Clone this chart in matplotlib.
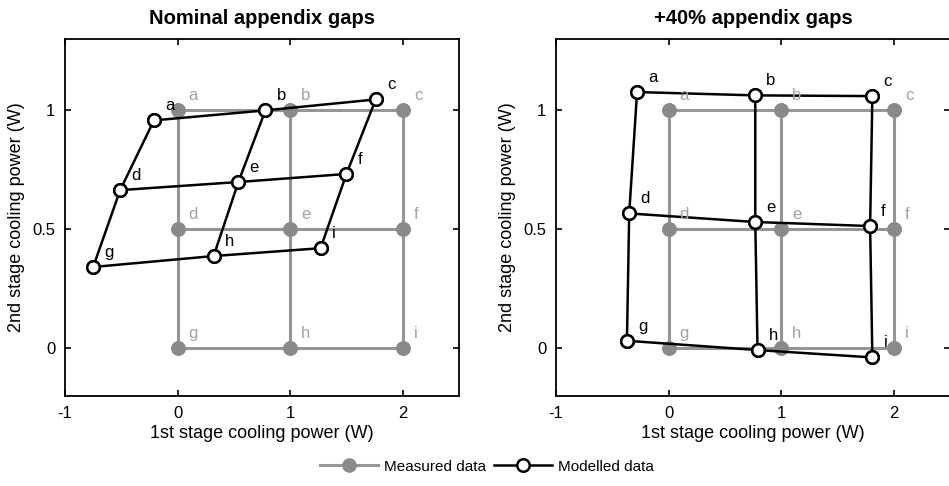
import matplotlib
matplotlib.use("Agg")
import matplotlib.pyplot as plt
from matplotlib.lines import Line2D

plt.rcParams['font.family'] = ['Liberation Sans', 'DejaVu Sans']
plt.rcParams['axes.unicode_minus'] = False

point_names = ['a', 'b', 'c', 'd', 'e', 'f', 'g', 'h', 'i']

# measured grid (same in both panels)
meas_x = [0, 1, 2, 0, 1, 2, 0, 1, 2]
meas_y = [1, 1, 1, 0.5, 0.5, 0.5, 0, 0, 0]

# modelled, nominal appendix gaps
nom_x = [-0.21, 0.78, 1.76, -0.51, 0.54, 1.50, -0.75, 0.32, 1.27]
nom_y = [0.958, 1.00, 1.046, 0.665, 0.699, 0.733, 0.342, 0.388, 0.421]

# modelled, +40% appendix gaps
gap40_x = [-0.28, 0.77, 1.81, -0.35, 0.77, 1.79, -0.37, 0.79, 1.81]
gap40_y = [1.077, 1.063, 1.060, 0.567, 0.531, 0.514, 0.032, -0.007, -0.038]

titles = ['Nominal appendix gaps', '+40% appendix gaps']

grey_line = '#959595'
grey_dot = '#8a8a8a'
grey_text = '#a3a3a3'

rows = [[0, 1, 2], [3, 4, 5], [6, 7, 8]]
cols = [[0, 3, 6], [1, 4, 7], [2, 5, 8]]


def draw_grid(ax, xs, ys, style):
    for idx in rows + cols:
        ax.plot([xs[k] for k in idx], [ys[k] for k in idx], **style)


fig = plt.figure(figsize=(9.49, 4.86), dpi=100)
axes = [fig.add_axes([0.0685, 0.1852, 0.4152, 0.7346]),
        fig.add_axes([0.5859, 0.1852, 0.4152, 0.7346])]

meas_style = dict(color=grey_line, lw=2.2, marker='o', ms=9.5,
                  mfc=grey_dot, mec=grey_dot, zorder=2)
mod_style = dict(color='black', lw=1.8, marker='o', ms=9,
                 mfc='white', mec='black', mew=1.8, zorder=3)

for ax, mx, my, title in zip(axes, [nom_x, gap40_x], [nom_y, gap40_y], titles):
    draw_grid(ax, meas_x, meas_y, meas_style)
    draw_grid(ax, mx, my, mod_style)
    for name, x, y in zip(point_names, meas_x, meas_y):
        ax.annotate(name, (x, y), xytext=(8, 5), textcoords='offset points',
                    color=grey_text, fontsize=12, ha='left', va='bottom')
    for name, x, y in zip(point_names, mx, my):
        ax.annotate(name, (x, y), xytext=(8, 5), textcoords='offset points',
                    color='black', fontsize=12, ha='left', va='bottom', zorder=4)

    ax.set_xlim(-1, 2.5)
    ax.set_ylim(-0.2, 1.3)
    ax.set_xticks([-1, 0, 1, 2])
    ax.set_xticklabels(['-1', '0', '1', '2'])
    ax.set_yticks([0, 0.5, 1])
    ax.set_yticklabels(['0', '0.5', '1'])
    ax.tick_params(direction='in', top=True, right=True, length=4,
                   width=1.2, labelsize=12, pad=7)
    for sp in ax.spines.values():
        sp.set_linewidth(1.3)
    ax.set_xlabel('1st stage cooling power (W)', fontsize=13, labelpad=3)
    ax.set_ylabel('2nd stage cooling power (W)', fontsize=13, labelpad=5)
    ax.set_title(title, fontsize=14.5, fontweight='bold', pad=11)

handles = [Line2D([], [], **{k: v for k, v in meas_style.items() if k != 'zorder'}),
           Line2D([], [], **{k: v for k, v in mod_style.items() if k != 'zorder'})]
fig.legend(handles, ['Measured data', 'Modelled data'], loc='center',
           bbox_to_anchor=(0.513, 0.04), ncol=2, frameon=False, fontsize=11,
           handlelength=3.8, columnspacing=0.5, handletextpad=0.4)

fig.savefig('out.png', dpi=100)
